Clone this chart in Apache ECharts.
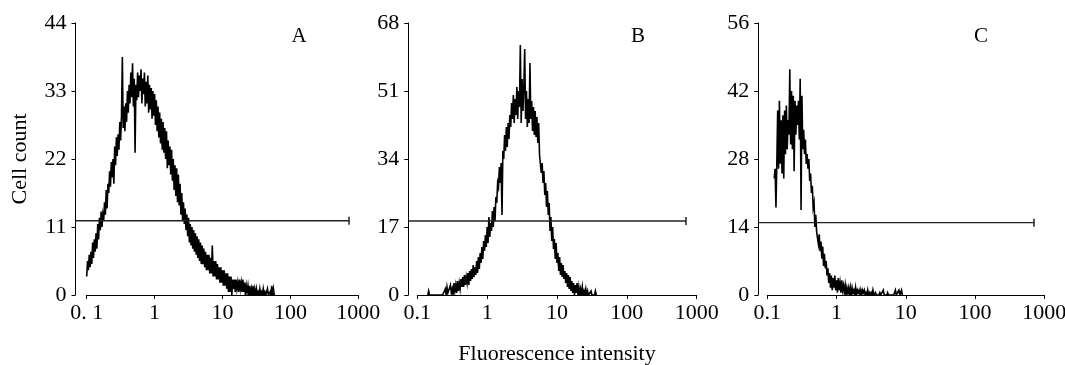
<!DOCTYPE html>
<html>
<head>
<meta charset="utf-8">
<script src="https://cdn.jsdelivr.net/npm/echarts@6/dist/echarts.min.js"></script>
<style>
html,body{margin:0;padding:0;background:#fff;}
#chart{width:1065px;height:365px;}
</style>
</head>
<body>
<div id="chart"></div>
<script>
// ---- data ----
const panelLetters = ['A', 'B', 'C'];
const xTickLabelsA = ['0. 1', '1', '10', '100', '1000'];
const xTickLabelsBC = ['0.1', '1', '10', '100', '1000'];
const yMaxes = [44, 68, 56];
const yIntervals = [11, 17, 14];
// histogram channels: 80 channels per decade of fluorescence, channel 0 = 0.1
const binsPerDecade = 80;
const firstChannels = [0, 12, 8];

const countsA = [
  3,5.5,4,6.5,4.5,7,5,8.5,6,9,
  7,10,7.5,11.5,9,12.5,10.5,13.5,11,13,
  12,15,13,17,14,18,16.5,20,17.5,21.5,
  19,22,18,24,21,25.5,22.5,26,23.5,28,
  25,29,38.5,27,30.5,26.5,31,28,33,29.5,
  34,31,36,32,37.5,30.5,35,23,34,31.5,
  36,32,35.5,33,36.5,31,35,32.5,36,30.5,
  34.5,31,35.5,29.5,34,30,33.5,28.5,33,29,
  32.5,27.5,31.5,26.5,30.5,25.5,29.5,24.5,28.5,23.5,
  28,23,27,22,26.5,20.5,25,21,24,19.5,
  23.5,18.5,22,17,21,16,20.5,15,19.5,14.5,
  18,13,16.5,12,15,11.5,14,10.5,13,9.5,
  12.5,8.5,11.5,8,11,7.5,10.5,7,10,6.5,
  9.5,6,9,5.5,8.5,5,8,5,7.5,4.5,
  7,4,6.5,4,6.5,3.5,6,3.5,8,3,
  5.5,3,5.5,2.5,5,2.5,4.5,2,4.5,2,
  4,1.5,4,1.5,3.5,1,3.5,0.5,3,0.5,
  3,0,2.5,1,2.5,0.5,2.5,1,2,0.5,
  2.5,1,2,0.5,2.5,0.5,2,0,1.5,0.5,
  1.5,0,1.5,0,1,0,1.5,0,1,0,
  1,0,0.5,0,1,0,0.5,0,1,0,
  0.5,0,0,1,0,0,0.5,0,1.5,0,1,0,0
];

const countsB = [
  0,1,0,
  0,0,0,0,0,0,0,0,0,0,0,0,0,0,0,0,
  0,1.5,0,2,0.5,1,0,2.5,0.5,1.5,
  0,3,1,2.5,0.5,3.5,1,3,1.5,4,
  2,4.5,2,5,2.5,4.5,3,5.5,2.5,6,
  3.5,6.5,4,7.5,4.5,7,5,8.5,5.5,9.5,
  6.5,10.5,8,12,9,13.5,11,15,12,17,
  13,19.5,14.5,18,16,21,17,22,18.5,24.5,
  23,28,27,32,28,33,20,36,34,40,
  36,42,37,43,39,45,42,48,44,50,
  43,49,45,52,44,51,47,62.5,43,54,
  46,52,61.5,44,51,42,49,43,58,44,
  48.5,41,47,40,46,39.5,44.5,38,43,35,
  34.5,30.5,33,28,31,25,28,22,26,20,
  23,16,19.5,13.5,17,11.5,14,9,13,8,
  10.5,6,9.5,5,8,4.5,7.5,4,6,3,
  5.5,2,5,1.5,4.5,1,3.5,0.5,3,0,
  2.5,0.5,3,0,2,0,1.5,0,2,0,
  1,0,1.5,0,1,0,0.5,0,1,0,
  0,0.5,0,1,0
];

const countsC = [
  24,26,18,27,38,26,40,27,36,25,
  37,24,38,29,39,30,36,33,46.5,31,
  42,30,41,25.5,40,33,39,35,40,32,
  44.5,17.5,41,30,34,29,32,27,29,26,
  28,23.5,25,21,22.5,18,19,14,16.5,13,
  13,10.5,12.5,9,11,7.5,10,6,8.5,5.5,
  7,4,5.5,2.5,4.5,1.5,4,1,3.5,1.5,
  4,1,3,0.5,3.5,1,2.5,0.5,3,1,
  2,0.5,2,0,1.5,0.5,1.5,0,1.5,0,
  1.5,0.5,1,0,1.5,0,1,0.5,1,0,
  1,0,1,0.5,1,0,0.5,0,1,0,
  0.5,0,0.5,0,1,0,0,0.5,0,0,
  0,0,0.5,0,0,0,1,0,0,0,
  0,0.5,0,0,0,0,0,0,0,0,
  1,0,0,0,1,0,0,1,0
];

// gate marker (horizontal bar): level and x extent per panel
const gateLevels = [12, 18.5, 14.9];
const gateEnds = [730, 703, 710];

// ---- chart ----
const FONT = 'Liberation Serif';
const chart = echarts.init(document.getElementById('chart'), null, {renderer: 'canvas'});

const plotLeft = [86.7, 417.3, 767.3];
const plotWidth = [271.6, 279.4, 277];
const yAxisX = [75.5, 408.3, 758.3];
const TOP = 23, HEIGHT = 272;
const allCounts = [countsA, countsB, countsC];

function channelToIntensity(ch) { return Math.pow(10, -1 + ch / binsPerDecade); }

const grids = [], xAxes = [], yAxes = [], series = [];
for (let p = 0; p < 3; p++) {
  grids.push({left: plotLeft[p], top: TOP, width: plotWidth[p], height: HEIGHT,
              containLabel: false, outerBoundsMode: 'none'});
  const labels = p === 0 ? xTickLabelsA : xTickLabelsBC;
  xAxes.push({
    gridIndex: p, type: 'log', logBase: 10, min: 0.1, max: 1000,
    axisLine: {show: true, lineStyle: {color: '#000', width: 1}},
    axisTick: {show: true, inside: false, length: 4, lineStyle: {color: '#000'}},
    minorTick: {show: false},
    splitLine: {show: false},
    axisLabel: {
      color: '#000', fontFamily: FONT, fontSize: 22, margin: 7,
      formatter: v => labels[Math.round(Math.log10(v)) + 1]
    },
    name: p === 1 ? 'Fluorescence intensity' : '',
    nameLocation: 'middle', nameGap: 48,
    nameTextStyle: {color: '#000', fontFamily: FONT, fontSize: 22}
  });
  yAxes.push({
    gridIndex: p, type: 'value', min: 0, max: yMaxes[p], interval: yIntervals[p],
    offset: plotLeft[p] - yAxisX[p],
    axisLine: {show: true, lineStyle: {color: '#000', width: 1}},
    axisTick: {show: true, inside: false, length: 4, lineStyle: {color: '#000'}},
    splitLine: {show: false},
    axisLabel: {color: '#000', fontFamily: FONT, fontSize: 22, margin: 9},
    name: p === 0 ? 'Cell count' : '',
    nameLocation: 'middle', nameRotate: 90, nameGap: 44,
    nameTextStyle: {color: '#000', fontFamily: FONT, fontSize: 22}
  });
  const data = allCounts[p].map((c, k) => [channelToIntensity(firstChannels[p] + k), c]);
  series.push({
    type: 'line', xAxisIndex: p, yAxisIndex: p, data: data,
    symbol: 'none', showSymbol: false, sampling: null,
    lineStyle: {color: '#000', width: 1.6, join: 'miter'}, animation: false, z: 3
  });
}
// gate bars live on hidden axes spanning from the y-axis line to the plot's right edge,
// with the same log scale as the visible axis
for (let p = 0; p < 3; p++) {
  const pxPerDecade = plotWidth[p] / 4;
  const gateMin = Math.pow(10, -1 - (plotLeft[p] - yAxisX[p]) / pxPerDecade);
  grids.push({left: yAxisX[p], top: TOP, width: plotLeft[p] + plotWidth[p] - yAxisX[p], height: HEIGHT,
              containLabel: false, outerBoundsMode: 'none'});
  xAxes.push({gridIndex: 3 + p, type: 'log', logBase: 10, min: gateMin, max: 1000, show: false});
  yAxes.push({gridIndex: 3 + p, type: 'value', min: 0, max: yMaxes[p], show: false});
  series.push({
    type: 'line', xAxisIndex: 3 + p, yAxisIndex: 3 + p,
    data: [
      {value: [gateMin, gateLevels[p]], symbol: 'none'},
      {value: [gateEnds[p], gateLevels[p]], symbol: 'rect', symbolSize: [1.5, 8]}
    ],
    showSymbol: true,
    itemStyle: {color: '#222'},
    lineStyle: {color: '#222', width: 1.4}, animation: false, z: 4
  });
}

const letterPos = [[299, 36], [638, 36], [981, 36]];
const graphic = panelLetters.map((t, i) => ({
  type: 'text', x: letterPos[i][0], y: letterPos[i][1],
  style: {text: t, fill: '#000', font: '21px "' + FONT + '"', textAlign: 'center', textVerticalAlign: 'middle'}
}));

chart.setOption({
  animation: false,
  backgroundColor: '#fff',
  grid: grids,
  xAxis: xAxes,
  yAxis: yAxes,
  series: series,
  graphic: graphic
});
</script>
</body>
</html>
